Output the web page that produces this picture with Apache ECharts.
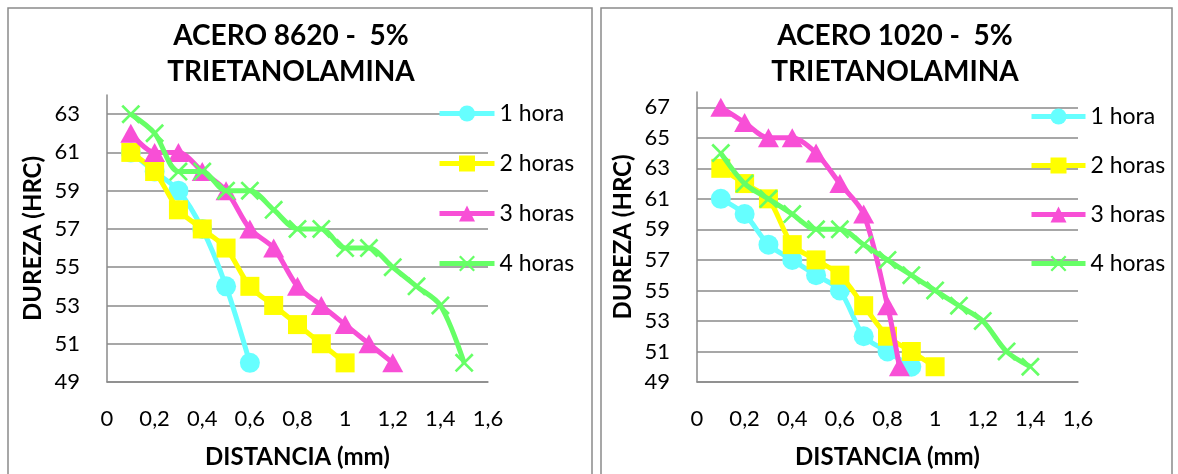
<!DOCTYPE html>
<html>
<head>
<meta charset="utf-8">
<script src="https://cdn.jsdelivr.net/npm/echarts@6/dist/echarts.min.js"></script>
<style>
  html, body { margin: 0; padding: 0; background: #fff; }
  #chart { width: 1178px; height: 474px; }
</style>
</head>
<body>
<div id="chart"></div>
<script>
// Series names shared by both panels
const seriesNames = ['1 hora', '2 horas', '3 horas', '4 horas'];

// Panel A: ACERO 8620 - 5% TRIETANOLAMINA (distance in mm, hardness in HRC)
const distA1 = [0.1, 0.2, 0.3, 0.4, 0.5, 0.6];
const hardA1 = [61, 60, 59, 57, 54, 50];
const distA2 = [0.1, 0.2, 0.3, 0.4, 0.5, 0.6, 0.7, 0.8, 0.9, 1.0];
const hardA2 = [61, 60, 58, 57, 56, 54, 53, 52, 51, 50];
const distA3 = [0.1, 0.2, 0.3, 0.4, 0.5, 0.6, 0.7, 0.8, 0.9, 1.0, 1.1, 1.2];
const hardA3 = [62, 61, 61, 60, 59, 57, 56, 54, 53, 52, 51, 50];
const distA4 = [0.1, 0.2, 0.3, 0.4, 0.5, 0.6, 0.7, 0.8, 0.9, 1.0, 1.1, 1.2, 1.3, 1.4, 1.5];
const hardA4 = [63, 62, 60, 60, 59, 59, 58, 57, 57, 56, 56, 55, 54, 53, 50];

// Panel B: ACERO 1020 - 5% TRIETANOLAMINA
const distB1 = [0.1, 0.2, 0.3, 0.4, 0.5, 0.6, 0.7, 0.8, 0.9];
const hardB1 = [61, 60, 58, 57, 56, 55, 52, 51, 50];
const distB2 = [0.1, 0.2, 0.3, 0.4, 0.5, 0.6, 0.7, 0.8, 0.9, 1.0];
const hardB2 = [63, 62, 61, 58, 57, 56, 54, 52, 51, 50];
const distB3 = [0.1, 0.2, 0.3, 0.4, 0.5, 0.6, 0.7, 0.8, 0.85];
const hardB3 = [67, 66, 65, 65, 64, 62, 60, 54, 50];
const distB4 = [0.1, 0.2, 0.3, 0.4, 0.5, 0.6, 0.7, 0.8, 0.9, 1.0, 1.1, 1.2, 1.3, 1.4];
const hardB4 = [64, 62, 61, 60, 59, 59, 58, 57, 56, 55, 54, 53, 51, 50];

// Axis ticks
const xTicks = { min: 0, max: 1.6, interval: 0.2 };
const yTicksA = { min: 49, max: 64, interval: 2 };
const yTicksB = { min: 49, max: 68, interval: 2 };

const titleA = 'ACERO 8620 -  5%\nTRIETANOLAMINA';
const titleB = 'ACERO 1020 -  5%\nTRIETANOLAMINA';
const xName = 'DISTANCIA (mm)';
const yName = 'DUREZA (HRC)';

const FONT = 'Lato, "Open Sans", sans-serif';
const GRID_COLOR = '#8a8a8a';
const colors = ['#66FFFF', '#FFFF00', '#F84FD6', '#66FF66'];
// thin diagonal cross used for the fourth series
const crossPath = 'path://M0,1L1,0L10,9L9,10ZM9,0L10,1L1,10L0,9Z';
const symbols = ['circle', 'rect', 'triangle', crossPath];
const symbolSizes = [20, 19, [21, 19], 19];

function pairs(xs, ys) {
  return xs.map((x, i) => [x, ys[i]]);
}

function xAxis(gridIndex) {
  return {
    type: 'value', gridIndex,
    min: xTicks.min, max: xTicks.max, interval: xTicks.interval,
    name: xName, nameLocation: 'middle', nameGap: 63,
    nameTextStyle: { fontFamily: FONT, fontSize: 24, fontWeight: 'bold', color: '#000' },
    axisLine: { show: true, lineStyle: { color: GRID_COLOR, width: 1.5 } },
    axisTick: { show: false },
    splitLine: { show: false },
    axisLabel: {
      margin: 26, fontFamily: FONT, fontSize: 22, color: '#000',
      formatter: v => String(+v.toFixed(1)).replace('.', ',')
    }
  };
}

function yAxis(gridIndex, t) {
  return {
    type: 'value', gridIndex,
    min: t.min, max: t.max, interval: t.interval,
    name: yName, nameLocation: 'middle', nameGap: 62, nameRotate: 90,
    nameTextStyle: { fontFamily: FONT, fontSize: 24, fontWeight: 'bold', color: '#000' },
    axisLine: { show: true, lineStyle: { color: GRID_COLOR, width: 1.5 } },
    axisTick: { show: false },
    splitLine: { show: true, showMaxLine: false, lineStyle: { color: GRID_COLOR, width: 1.5 } },
    axisLabel: {
      margin: 27, fontFamily: FONT, fontSize: 22, color: '#000',
      formatter: v => ((v - t.min) % t.interval === 0 ? String(v) : '')
    }
  };
}

function makeSeries(gridIndex, sets) {
  return sets.map((s, i) => ({
    type: 'line',
    name: seriesNames[i],
    xAxisIndex: gridIndex, yAxisIndex: gridIndex,
    data: pairs(s[0], s[1]),
    smooth: 0.3,
    symbol: symbols[i],
    symbolSize: symbolSizes[i],
    showAllSymbol: true,
    lineStyle: { color: colors[i], width: 5 },
    itemStyle: { color: colors[i], borderWidth: 0 },
    emphasis: { disabled: true },
    z: 2 + i
  }));
}

function legend(left, top, gap, width) {
  return {
    orient: 'vertical', left, top,
    itemWidth: width, itemHeight: 20, itemGap: gap,
    data: seriesNames,
    selectedMode: false,
    lineStyle: { width: 5 },
    textStyle: { fontFamily: FONT, fontSize: 23, color: '#000', lineHeight: 20 }
  };
}

const chart = echarts.init(document.getElementById('chart'), null, { renderer: 'canvas' });

const titleStyle = { fontFamily: FONT, fontSize: 28, fontWeight: 'bold', color: '#000', lineHeight: 36 };

chart.setOption({
  animation: false,
  backgroundColor: '#fff',
  title: [
    { text: titleA, left: 286, top: 13, textAlign: 'center', textStyle: titleStyle },
    { text: titleB, left: 890, top: 13, textAlign: 'center', textStyle: titleStyle }
  ],
  grid: [
    { left: 107, top: 95, width: 381, height: 288 },
    { left: 697, top: 92, width: 381, height: 292 }
  ],
  xAxis: [xAxis(0), xAxis(1)],
  yAxis: [yAxis(0, yTicksA), yAxis(1, yTicksB)],
  legend: [legend(432, 97, 27, 55), legend(1024, 100, 26, 54)],
  graphic: [
    { type: 'rect', shape: { x: 8, y: 8, width: 584, height: 480 },
      style: { fill: 'none', stroke: GRID_COLOR, lineWidth: 1.5 }, silent: true, z: -1 },
    { type: 'rect', shape: { x: 601, y: 8, width: 571, height: 480 },
      style: { fill: 'none', stroke: GRID_COLOR, lineWidth: 1.5 }, silent: true, z: -1 }
  ],
  series: [
    ...makeSeries(0, [[distA1, hardA1], [distA2, hardA2], [distA3, hardA3], [distA4, hardA4]]),
    ...makeSeries(1, [[distB1, hardB1], [distB2, hardB2], [distB3, hardB3], [distB4, hardB4]])
  ]
});
</script>
</body>
</html>
